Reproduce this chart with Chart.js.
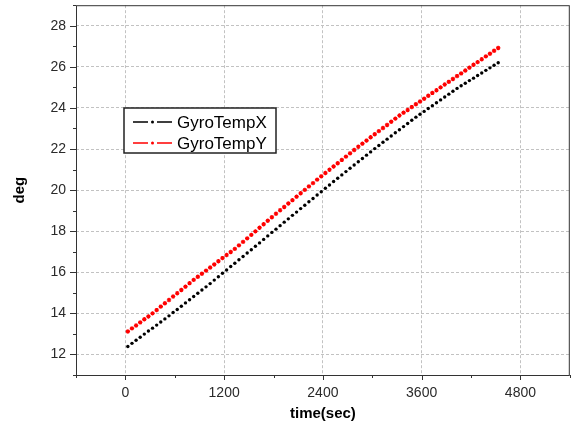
<!DOCTYPE html>
<html>
<head>
<meta charset="utf-8">
<script src="https://cdn.jsdelivr.net/npm/chart.js@4"></script>
<style>
  html, body { margin: 0; padding: 0; background: #fff; }
  #wrap { width: 575px; height: 431px; }
</style>
</head>
<body>
<div id="wrap"><canvas id="gyroChart"></canvas></div>
<script>
// sample times (sec)
const timeSec = [
    30, 80, 130, 180, 230, 280, 330, 380, 430, 480,
    530, 580, 630, 680, 730, 780, 830, 880, 930, 980,
    1030, 1080, 1130, 1180, 1230, 1280, 1330, 1380, 1430, 1480,
    1530, 1580, 1630, 1680, 1730, 1780, 1830, 1880, 1930, 1980,
    2030, 2080, 2130, 2180, 2230, 2280, 2330, 2380, 2430, 2480,
    2530, 2580, 2630, 2680, 2730, 2780, 2830, 2880, 2930, 2980,
    3030, 3080, 3130, 3180, 3230, 3280, 3330, 3380, 3430, 3480,
    3530, 3580, 3630, 3680, 3730, 3780, 3830, 3880, 3930, 3980,
    4030, 4080, 4130, 4180, 4230, 4280, 4330, 4380, 4430, 4480,
    4530
];

const gyroTempX = [
    12.39, 12.54, 12.69, 12.84, 12.99, 13.14, 13.28, 13.43, 13.58, 13.73,
    13.88, 14.04, 14.19, 14.35, 14.51, 14.66, 14.82, 14.98, 15.14, 15.29,
    15.45, 15.62, 15.78, 15.95, 16.11, 16.28, 16.44, 16.61, 16.77, 16.94,
    17.10, 17.27, 17.43, 17.60, 17.77, 17.94, 18.10, 18.27, 18.44, 18.60,
    18.77, 18.93, 19.10, 19.26, 19.43, 19.59, 19.76, 19.92, 20.09, 20.25,
    20.42, 20.58, 20.74, 20.90, 21.06, 21.22, 21.38, 21.54, 21.70, 21.86,
    22.02, 22.17, 22.33, 22.48, 22.63, 22.79, 22.94, 23.09, 23.24, 23.40,
    23.55, 23.69, 23.83, 23.97, 24.11, 24.25, 24.39, 24.53, 24.67, 24.81,
    24.95, 25.08, 25.20, 25.33, 25.45, 25.58, 25.70, 25.83, 25.95, 26.08,
    26.20
];

const gyroTempY = [
    13.12, 13.27, 13.41, 13.56, 13.71, 13.85, 14.00, 14.16, 14.33, 14.49,
    14.65, 14.82, 14.98, 15.14, 15.30, 15.47, 15.63, 15.78, 15.93, 16.08,
    16.23, 16.38, 16.54, 16.69, 16.84, 16.99, 17.14, 17.31, 17.48, 17.65,
    17.82, 17.99, 18.17, 18.34, 18.51, 18.68, 18.85, 19.02, 19.18, 19.35,
    19.51, 19.68, 19.85, 20.01, 20.18, 20.34, 20.51, 20.67, 20.83, 20.99,
    21.15, 21.31, 21.47, 21.63, 21.79, 21.95, 22.11, 22.26, 22.41, 22.57,
    22.72, 22.87, 23.02, 23.17, 23.33, 23.48, 23.63, 23.77, 23.90, 24.04,
    24.18, 24.31, 24.45, 24.59, 24.73, 24.86, 25.00, 25.14, 25.27, 25.41,
    25.55, 25.68, 25.82, 25.96, 26.10, 26.23, 26.37, 26.51, 26.64, 26.78,
    26.92
];

const seriesNames = ['GyroTempX', 'GyroTempY'];
const xTickLabels = [0, 1200, 2400, 3600, 4800];
const yTickLabels = [12, 14, 16, 18, 20, 22, 24, 26, 28];

const FONT = 'Liberation Sans, Arial, sans-serif';

function toPoints(xs, ys) {
    return xs.map((x, i) => ({ x: x, y: ys[i] }));
}

// frame, outside tick marks and the boxed legend (Origin style)
const originLook = {
    id: 'originLook',
    afterDraw(chart) {
        const ctx = chart.ctx;
        const area = chart.chartArea;
        const xs = chart.scales.x;
        const ys = chart.scales.y;

        ctx.save();
        ctx.strokeStyle = '#333';
        ctx.lineWidth = 1;
        ctx.strokeRect(area.left + 0.5, area.top + 0.5, area.right - area.left - 1, area.bottom - area.top);

        ctx.beginPath();
        xs.ticks.forEach(t => {
            const px = Math.round(xs.getPixelForValue(t.value)) + 0.5;
            const len = xTickLabels.includes(t.value) ? 5 : 3;
            ctx.moveTo(px, area.bottom);
            ctx.lineTo(px, area.bottom + len);
        });
        ys.ticks.forEach(t => {
            const py = Math.round(ys.getPixelForValue(t.value)) + 0.5;
            const len = yTickLabels.includes(t.value) ? 6 : 3;
            ctx.moveTo(area.left, py);
            ctx.lineTo(area.left - len, py);
        });
        ctx.stroke();

        // legend box
        const bx = 124, by = 108, bw = 152, bh = 45;
        ctx.fillStyle = '#fff';
        ctx.fillRect(bx, by, bw, bh);
        ctx.strokeStyle = '#222';
        ctx.lineWidth = 1.5;
        ctx.strokeRect(bx, by, bw, bh);

        chart.data.datasets.forEach((ds, i) => {
            const y = by + 14 + i * 21;
            ctx.strokeStyle = ds.borderColor;
            ctx.lineWidth = 1.5;
            ctx.beginPath();
            ctx.moveTo(133, y); ctx.lineTo(148, y);
            ctx.moveTo(157, y); ctx.lineTo(172, y);
            ctx.stroke();
            ctx.fillStyle = ds.borderColor;
            ctx.beginPath();
            ctx.arc(152.5, y, 1.5, 0, Math.PI * 2);
            ctx.fill();
            ctx.fillStyle = '#000';
            ctx.font = '17px ' + FONT;
            ctx.textBaseline = 'middle';
            ctx.textAlign = 'left';
            ctx.fillText(ds.label, 177, y + 1);
        });
        ctx.restore();
    }
};

const gridColor = (labels) => (c) =>
    (c.tick && labels.includes(c.tick.value)) ? '#c2c2c2' : 'rgba(0,0,0,0)';

// fixed axis sizes, no extra room for the (blank) end labels
function fixBox(size, horizontal) {
    return s => {
        if (horizontal) s.height = size; else s.width = size;
        s.paddingTop = 0;
        s.paddingBottom = 0;
        s.paddingLeft = 0;
        s.paddingRight = 0;
    };
}

new Chart(document.getElementById('gyroChart'), {
    type: 'scatter',
    data: {
        datasets: [
            {
                label: seriesNames[0],
                data: toPoints(timeSec, gyroTempX),
                borderColor: '#000000',
                backgroundColor: '#000000',
                pointStyle: 'circle',
                pointRadius: 1.7,
                pointBorderWidth: 0,
                showLine: false
            },
            {
                label: seriesNames[1],
                data: toPoints(timeSec, gyroTempY),
                borderColor: '#ff0000',
                backgroundColor: '#ff0000',
                pointStyle: 'star',
                pointRadius: 2.2,
                pointBorderWidth: 1.2,
                showLine: false
            }
        ]
    },
    options: {
        responsive: true,
        maintainAspectRatio: false,
        animation: false,
        devicePixelRatio: 1,
        layout: { padding: { top: 5, right: 4, left: 0, bottom: 0 } },
        plugins: {
            legend: { display: false },
            tooltip: { enabled: false }
        },
        scales: {
            x: {
                type: 'linear',
                min: -600,
                max: 5400,
                afterFit: fixBox(56, true),
                ticks: {
                    stepSize: 600,
                    autoSkip: false,
                    maxRotation: 0,
                    padding: 10,
                    color: '#2a2a2a',
                    font: { family: FONT, size: 14 },
                    callback: v => xTickLabels.includes(v) ? String(v) : ''
                },
                grid: { drawTicks: false, color: gridColor(xTickLabels), lineWidth: 1 },
                border: { display: false, dash: [3, 2] },
                title: {
                    display: true,
                    text: 'time(sec)',
                    color: '#000',
                    font: { family: FONT, size: 15, weight: 'bold' },
                    padding: { top: 0, bottom: 8 }
                }
            },
            y: {
                type: 'linear',
                min: 11,
                max: 29,
                afterFit: fixBox(76, false),
                ticks: {
                    stepSize: 1,
                    autoSkip: false,
                    padding: 10,
                    color: '#2a2a2a',
                    font: { family: FONT, size: 14 },
                    callback: v => yTickLabels.includes(v) ? String(v) : ''
                },
                grid: { drawTicks: false, color: gridColor(yTickLabels), lineWidth: 1 },
                border: { display: false, dash: [3, 2] },
                title: {
                    display: true,
                    text: 'deg',
                    color: '#000',
                    font: { family: FONT, size: 15, weight: 'bold' },
                    padding: { top: 11, bottom: 0 }
                }
            }
        }
    },
    plugins: [originLook]
});
</script>
</body>
</html>
